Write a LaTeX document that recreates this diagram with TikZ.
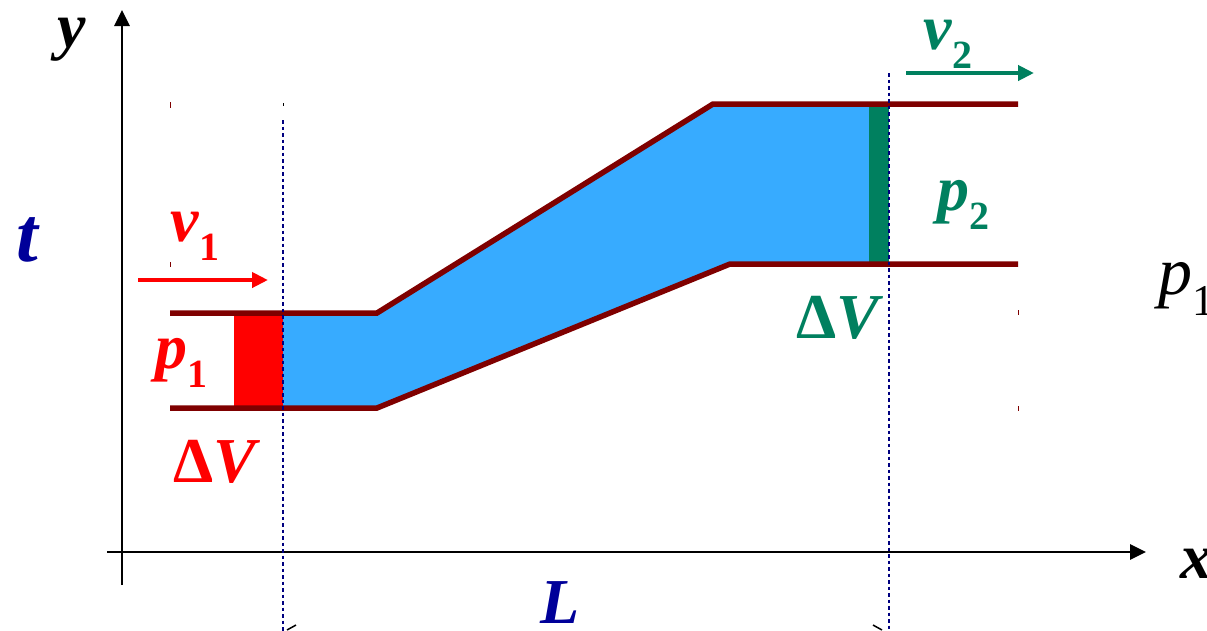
\documentclass[tikz,border=0pt]{standalone}
\usepackage{fontspec}
\setmainfont{Liberation Serif}
\usetikzlibrary{arrows.meta}
\definecolor{pipeblue}{HTML}{37ABFF}
\definecolor{wallred}{HTML}{7F0000}
\definecolor{hotred}{HTML}{FF0000}
\definecolor{flowgreen}{HTML}{00805F}
\definecolor{navy}{HTML}{000099}
\definecolor{dotnavy}{HTML}{000080}
\newcommand{\bigfont}{\fontsize{64}{70}\selectfont}
\newcommand{\subnum}[1]{\raisebox{-0.3em}{\fontsize{40}{44}\selectfont\bfseries\upshape #1}}
\tikzset{
  lbl/.style={inner sep=0pt, font=\bigfont\bfseries\itshape},
  wall/.style={draw=wallred, line width=5.5pt},
  axis/.style={draw=black, line width=2.8pt, -{Triangle[length=16pt,width=15pt]}},
  vel/.style={line width=4pt, -{Triangle[length=16pt,width=15pt]}},
  guide/.style={draw=dotnavy, line width=2.8pt, dash pattern=on 3.5pt off 3pt},
  speck/.style={line width=1pt}
}
\begin{document}
\begin{tikzpicture}[x=1pt,y=-1pt]
\useasboundingbox (0,0) rectangle (1207,630);
% coordinates
\coordinate (yb) at (122,585);
\coordinate (yt) at (122,10);
\coordinate (xl) at (107,552);
\coordinate (xr) at (1146,552);
% fills
\fill[pipeblue] (283,313) -- (377,313) -- (713,104) -- (870,104) -- (870,264) -- (730,264) -- (377,408) -- (283,408) -- cycle;
\fill[hotred] (234,313) rectangle (283,408);
\fill[flowgreen] (869,104) rectangle (889,264);
% walls
\draw[wall] (170,313) -- (377,313) -- (713,104) -- (1018,104);
\draw[wall] (170,408) -- (377,408) -- (730,264) -- (1018,264);
% axes
\draw[axis] (yb) -- (yt);
\draw[axis] (xl) -- (xr);
% guides
\coordinate (g1t) at (283,120);
\coordinate (g1b) at (283,632);
\coordinate (g2t) at (889,73);
\coordinate (g2b) at (889,632);
\draw[guide] (g1t) -- (g1b);
\draw[guide] (g2t) -- (g2b);
% velocity arrows
\coordinate (v1a) at (138,280);
\coordinate (v1b) at (268,280);
\coordinate (v2a) at (906,73);
\coordinate (v2b) at (1034,73);
\draw[vel, hotred] (v1a) -- (v1b);
\draw[vel, flowgreen] (v2a) -- (v2b);
% specks
\draw[speck, wallred] (170,102) -- (170,108);
\draw[speck, black] (283,103) -- (283,106);
\draw[speck, wallred] (170,262) -- (170,267);
\draw[speck, wallred] (1018,310) -- (1018,315);
\draw[speck, wallred] (1018,406) -- (1018,411);
\draw[line width=1.5pt] (287,630) -- (296,625);
\draw[line width=1.5pt] (873,625) -- (882,630);
% labels
\node[lbl] (ly) at (72,40) {y};
\node[lbl, text=navy, font=\fontsize{78}{84}\selectfont\bfseries\itshape] (lt) at (27,240) {t};
\node[lbl, text=hotred] (lv1) at (195,236) {v\subnum{1}};
\node[lbl, text=hotred] (lp1) at (181,363) {p\subnum{1}};
\node[lbl, text=hotred] (ldv1) at (215,462) {{\upshape Δ}V};
\node[lbl, text=flowgreen] (lv2) at (948,44) {v\subnum{2}};
\node[lbl, text=flowgreen] (lp2) at (963,205) {p\subnum{2}};
\node[lbl, text=flowgreen] (ldv2) at (838,318) {{\upshape Δ}V};
\node[lbl, text=navy] (lL) at (560,603) {L};
\node[lbl, anchor=west] (lx) at (1180,564) {x};
\node[inner sep=0pt, anchor=west, font=\fontsize{68}{72}\selectfont\itshape] (lp1r) at (1158,289) {p\raisebox{-0.3em}{\fontsize{44}{48}\selectfont\upshape 1}};
\end{tikzpicture}
\end{document}
